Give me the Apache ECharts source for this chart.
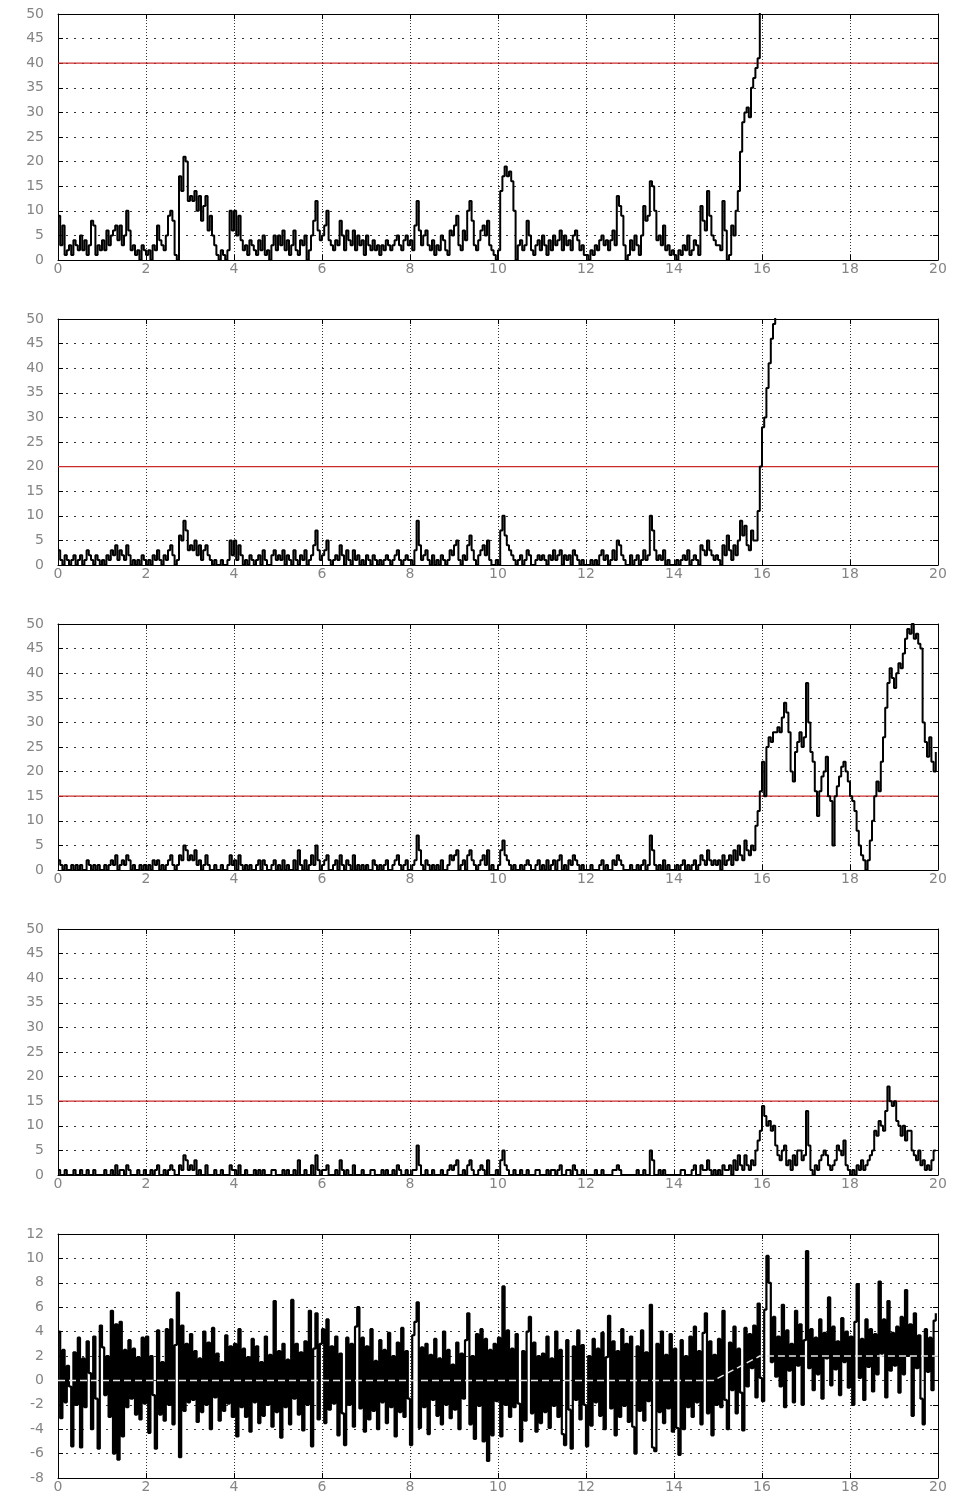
<!DOCTYPE html>
<html>
<head>
<meta charset="utf-8">
<script src="https://cdn.jsdelivr.net/npm/echarts@6/dist/echarts.min.js"></script>
<style>html,body{margin:0;padding:0;background:#fff}#c{width:957px;height:1494px}</style>
</head>
<body>
<div id="c"></div>
<script>
// sample spacing of the recorded series (x axis, time units)
const dt = 0.05;
const xRange = [0, 20];
const xTickLabels = [0,2,4,6,8,10,12,14,16,18,20];

// Panel 1 statistic (goes off the top just before 16)
const stat1 = [
 9,3,7,1,2,3,1,4,3,2,5,2,4,1,3,8,7,1,3,2,
 4,2,6,3,5,6,7,4,7,3,5,10,6,2,3,1,2,0,3,2,
 1,2,0,3,2,7,4,3,2,5,9,10,8,1,0,17,14,21,20,12,
 13,12,14,10,13,8,11,13,6,9,5,3,1,0,2,1,0,2,10,6,
 10,5,9,4,2,3,1,4,3,2,1,4,2,5,1,2,0,3,5,2,
 5,3,6,2,4,1,3,6,2,1,4,3,5,0,2,5,8,12,6,4,
 5,7,10,4,3,2,4,3,8,5,2,6,4,3,6,2,5,3,4,1,
 5,3,2,4,2,3,1,3,2,4,3,2,3,4,5,3,2,4,5,3,
 4,2,7,12,6,3,5,6,3,2,4,1,3,2,5,4,2,1,6,5,
 7,9,3,2,6,4,10,12,8,3,2,4,6,7,5,8,3,2,1,0,
 2,14,17,19,17,18,16,10,0,3,4,2,3,8,5,2,1,3,4,2,
 5,3,1,4,2,5,3,4,6,2,5,3,4,2,5,6,4,2,3,1,
 1,0,2,1,3,2,4,5,3,4,2,4,6,3,13,11,9,3,0,1,
 4,2,5,3,1,5,11,8,9,16,15,10,4,5,3,7,2,3,1,2,
 1,0,2,1,3,2,5,1,2,4,3,1,11,8,6,14,9,5,4,3,
 3,2,12,6,0,1,7,5,10,14,22,28,30,31,29,35,37,39,41,56,
 60,64
];

// Panel 2 statistic
const stat2 = [
 3,1,0,2,1,0,1,2,0,1,2,0,1,3,2,1,0,2,1,0,
 1,0,2,1,3,2,4,1,3,2,1,4,2,0,1,0,1,0,2,1,
 0,1,0,2,1,3,1,0,2,1,3,4,2,0,1,6,5,9,7,3,
 4,3,5,2,4,1,3,4,2,1,0,1,0,0,1,0,0,1,5,2,
 5,1,4,2,0,1,0,2,1,0,1,2,0,3,1,0,0,2,3,1,
 2,1,3,0,2,1,0,3,1,0,2,1,3,0,1,2,4,7,3,1,
 2,3,5,1,0,1,2,1,4,2,0,3,1,0,3,1,2,0,1,0,
 2,1,0,2,1,0,1,0,1,2,1,0,1,2,3,1,0,1,2,1,
 1,0,3,9,4,1,2,3,1,0,2,0,1,0,2,1,0,1,3,2,
 4,5,1,0,2,1,4,6,3,1,0,2,3,4,2,5,1,0,0,1,
 0,7,10,6,4,3,2,1,0,1,2,0,1,3,2,0,0,1,2,1,
 2,1,0,2,1,3,1,2,3,0,2,1,2,0,3,2,1,0,1,0,
 0,0,1,0,1,0,2,3,1,2,0,1,3,1,5,4,2,1,0,0,
 2,0,1,2,0,1,3,1,2,10,7,3,1,2,1,3,0,1,0,0,
 0,1,0,1,2,1,3,0,1,2,1,0,4,3,2,5,3,2,1,2,
 1,0,4,2,6,3,1,4,2,5,9,6,8,4,3,7,5,5,11,20,
 28,30,36,41,46,49,52,55
];

// Panel 3 statistic
const stat3 = [
 2,1,0,1,0,0,1,0,1,0,1,0,0,2,1,0,1,0,1,0,
 0,1,0,1,2,1,3,0,1,2,1,3,2,0,1,0,0,1,0,1,
 0,1,0,2,1,2,0,1,0,1,2,3,1,0,1,3,2,5,4,2,
 3,2,4,1,2,0,1,3,1,0,0,1,0,0,1,0,0,1,3,1,
 2,0,3,1,0,1,0,1,0,0,1,2,0,2,1,0,0,1,2,0,
 1,0,2,0,1,0,0,2,0,4,1,0,2,0,1,3,1,5,2,0,
 1,2,3,0,0,1,2,0,3,1,0,2,1,0,3,0,1,0,1,0,
 1,0,0,2,1,0,1,0,1,2,0,0,1,2,3,1,0,1,2,0,
 0,1,2,7,4,1,0,2,1,0,1,0,1,0,2,0,0,1,3,2,
 3,4,0,1,2,0,3,4,2,1,0,1,2,3,1,4,0,1,0,0,
 1,4,6,3,2,1,0,1,0,0,1,0,1,2,1,0,0,1,2,0,
 1,0,2,0,1,2,0,2,3,0,1,0,2,1,3,2,1,0,1,0,
 0,0,1,0,0,0,1,2,0,1,0,0,2,1,3,2,1,0,0,0,
 1,0,0,1,0,1,2,0,1,7,4,1,0,1,0,2,0,1,0,0,
 0,1,0,1,2,0,1,0,1,2,0,1,3,2,1,4,2,1,2,1,
 2,0,3,1,2,3,1,4,2,5,3,2,6,4,3,5,4,9,12,16,
 22,15,25,27,26,28,28,29,28,31,34,32,28,20,18,24,26,28,25,27,
 38,30,24,22,16,11,16,19,20,23,15,14,5,15,17,19,21,22,20,18,
 15,14,12,8,5,3,2,0,2,6,10,15,18,16,22,27,33,38,41,39,
 37,40,42,41,44,47,49,48,50,47,48,46,45,30,26,23,27,22,20,24
];

// Panel 4 statistic
const stat4 = [
 1,0,0,1,0,0,0,1,0,0,1,0,0,1,0,0,1,0,0,0,
 0,1,0,0,1,0,2,0,1,1,0,2,1,0,0,0,1,0,0,1,
 0,0,1,0,1,2,0,0,1,0,1,2,1,0,0,2,1,4,3,1,
 2,1,3,0,1,0,0,2,0,0,0,1,0,0,1,0,0,0,2,1,
 1,0,2,0,0,1,0,0,0,1,0,1,0,1,0,0,0,1,1,0,
 0,0,1,0,1,0,0,1,0,3,0,0,1,0,0,2,0,4,1,0,
 1,1,2,0,0,0,1,0,3,1,0,1,0,0,2,0,0,0,1,0,
 0,0,1,1,0,0,0,1,0,1,0,0,1,0,2,1,0,0,1,0,
 0,1,1,6,2,0,0,1,0,0,1,0,0,0,1,0,0,1,2,1,
 2,3,0,0,1,0,2,3,1,0,0,1,2,1,0,3,0,0,0,1,
 0,3,5,2,1,0,0,1,0,0,1,0,0,1,0,0,0,1,1,0,
 0,0,1,0,1,1,0,1,2,0,0,1,1,0,2,1,0,0,1,0,
 0,0,0,0,1,0,0,1,0,0,0,0,1,1,2,1,0,0,0,0,
 0,0,0,1,0,0,1,0,0,5,3,0,0,1,0,1,0,0,0,0,
 0,0,0,1,1,0,0,0,1,2,0,0,2,1,1,3,1,0,1,0,
 1,0,2,1,1,2,0,3,1,4,2,1,4,2,1,3,2,5,7,9,
 14,12,10,11,9,10,6,4,3,5,6,2,3,1,4,2,5,5,3,4,
 13,6,1,0,2,1,3,4,5,4,2,1,2,3,6,5,4,7,2,1,
 0,1,0,2,1,3,1,2,3,4,5,9,8,11,10,9,13,18,15,14,
 15,11,10,8,10,7,9,9,5,4,3,5,2,3,1,2,1,3,5,5
];

// Panel 5 raw signal
const signal = [
 4.0,-3.1,2.5,-1.8,1.2,-0.5,-5.4,2.3,-2.0,3.5,-5.5,1.8,-2.2,3.2,0.6,-4.0,3.6,-1.5,-5.6,4.5,
 2.7,-1.2,2.0,-3.0,5.7,-6.0,4.6,-6.5,4.8,-4.6,2.5,-2.2,3.3,-1.5,2.6,-2.8,1.9,-3.2,3.5,-1.9,
 3.6,-4.3,2.0,-1.2,-5.6,4.1,-2.8,1.5,-3.3,4.2,-2.0,5.0,-3.6,2.9,7.2,-6.3,4.5,-2.5,3.0,-1.8,
 3.8,-1.6,2.4,-3.4,1.8,-2.6,4.0,-2.0,3.1,-4.0,4.3,-1.4,2.2,-3.3,1.5,-2.5,3.7,-1.9,2.8,-3.0,
 3.0,-4.6,4.2,-2.2,2.6,-3.0,1.9,-4.2,3.4,-1.8,2.8,-3.5,1.5,-2.9,3.6,-2.0,2.1,-3.8,6.5,-2.6,
 2.4,-4.7,3.0,-2.2,1.7,-3.6,6.6,-1.5,3.0,-2.8,2.3,-4.1,3.2,-2.0,5.7,-5.4,2.6,5.5,-3.2,3.0,
 4.2,-3.5,5.0,-2.4,2.8,-1.9,3.6,-4.5,2.2,-2.7,-5.3,3.5,-2.0,3.0,-3.8,4.4,6.0,-2.3,3.5,-4.2,
 2.8,-3.2,4.2,-2.5,1.6,-4.0,3.3,-1.8,2.5,-3.5,3.9,-2.2,2.0,-4.6,3.1,-2.6,4.3,-3.0,2.4,-1.5,
 -5.3,3.7,4.8,6.4,-3.9,2.7,-2.2,3.0,-4.4,2.1,-1.6,3.4,-2.9,1.8,-3.6,4.0,-2.0,2.5,-3.1,1.3,
 -2.4,3.1,-4.0,2.2,-1.5,3.3,5.5,-3.6,2.0,-4.8,3.8,-2.1,4.2,-5.0,3.4,-6.6,2.5,-4.5,3.0,-1.7,
 3.5,-4.6,7.7,-2.0,4.1,-3.0,2.6,-2.2,3.8,-1.9,-5.0,2.4,-3.3,4.0,5.2,-2.7,3.1,-4.2,2.0,-3.5,
 2.2,-2.6,3.6,-3.9,1.8,-2.1,4.0,-3.0,2.5,-4.4,-5.3,3.3,-2.4,-5.6,2.8,-1.6,4.1,-3.2,2.9,-2.0,
 -5.4,2.0,-3.7,3.4,-1.8,2.6,-2.9,3.9,-4.0,1.9,5.3,-2.3,3.2,-4.5,2.4,-3.0,4.2,-2.1,3.0,-3.4,
 3.6,-3.8,-6.0,2.8,-2.5,4.1,-3.3,2.3,-1.7,6.2,-5.5,-5.8,3.0,-2.6,4.0,-3.5,2.1,-2.3,3.8,-4.2,
 2.6,-3.9,-6.1,3.3,-4.0,2.0,-2.2,3.6,-3.0,4.4,-1.8,2.4,-3.6,3.9,5.5,-2.7,3.2,-4.5,2.1,-2.0,
 3.4,-2.2,5.7,-1.6,-4.0,3.1,-0.8,4.4,-2.7,2.6,-1.0,-4.1,4.3,-0.5,3.8,1.0,4.5,-1.4,6.3,0.2,
 -1.7,5.8,10.2,8.0,1.5,5.2,0.3,3.6,-0.5,6.2,-2.2,4.1,0.8,3.0,-1.8,5.7,1.2,4.6,-2.0,3.3,
 10.6,1.0,4.2,-0.8,3.5,0.5,5.0,-1.5,3.9,1.8,6.8,-0.4,4.4,0.9,3.2,-1.2,5.1,1.5,4.0,-0.6,
 3.6,-2.0,4.8,7.9,0.2,3.4,-1.6,5.0,1.1,4.2,-0.9,3.8,0.5,8.1,2.2,5.0,-1.4,6.5,0.8,3.9,
 1.2,4.4,-1.0,5.2,0.5,7.4,2.0,4.6,-2.9,5.5,1.0,3.7,-1.5,-3.6,4.2,0.7,3.5,-0.8,4.9,5.5
];

// Mean of the signal (white line in panel 5)
const meanX = [0, 14.9, 15.95, 20];
const meanY = [0, 0, 2, 2];

// Alarm thresholds (red lines) for panels 1-4
const thresholds = [40, 20, 15, 15];

// y ranges [min, max, interval] for each panel
const yRanges = [[0,50,5],[0,50,5],[0,50,5],[0,50,5],[-8,12,2]];

const panelData = [stat1, stat2, stat3, stat4, signal];

function pairs(arr){ return arr.map((v,i)=>[+(i*dt).toFixed(2), v]); }

const chart = echarts.init(document.getElementById('c'), null, {renderer:'canvas'});
const grids = [], xAxes = [], yAxes = [], series = [];
const labelStyle = {color:'#858585', fontFamily:'DejaVu Sans', fontSize:14};
const tickStyle = {show:true, inside:true, length:5, lineStyle:{color:'#000', width:1}};
const axisLineStyle = {show:true, onZero:false, lineStyle:{color:'#000', width:1}};

for (let p=0; p<5; p++){
  grids.push({left:58, right:19, top:14+305*p, height:246, containLabel:false});
  const [ymin,ymax,yint] = yRanges[p];
  xAxes.push({type:'value', gridIndex:p, position:'bottom', min:xRange[0], max:xRange[1], interval:2,
    axisLine:axisLineStyle, axisTick:tickStyle,
    axisLabel:Object.assign({margin:2, formatter:(v)=> xTickLabels.includes(v)? String(v):''}, labelStyle),
    splitLine:{show:true, lineStyle:{color:'#333', width:1, type:[1,2]}}});
  xAxes.push({type:'value', gridIndex:p, position:'top', min:xRange[0], max:xRange[1], interval:2,
    axisLine:axisLineStyle, axisTick:tickStyle, axisLabel:{show:false}, splitLine:{show:false}});
  yAxes.push({type:'value', gridIndex:p, position:'left', min:ymin, max:ymax, interval:yint,
    axisLine:axisLineStyle, axisTick:tickStyle,
    axisLabel:Object.assign({margin:14}, labelStyle),
    splitLine:{show:true, lineStyle:{color:'#333', width:1, type:[2,6]}}});
  yAxes.push({type:'value', gridIndex:p, position:'right', min:ymin, max:ymax, interval:yint,
    axisLine:axisLineStyle, axisTick:tickStyle, axisLabel:{show:false}, splitLine:{show:false}});

  if (p<4){
    series.push({type:'line', xAxisIndex:2*p, yAxisIndex:2*p,
      data:[[xRange[0], thresholds[p]],[xRange[1], thresholds[p]]],
      showSymbol:false, symbol:'none', silent:true,
      lineStyle:{color:'#cc2b2b', width:1.2}, z:2});
  }
  series.push({type:'line', xAxisIndex:2*p, yAxisIndex:2*p, data:pairs(panelData[p]),
    step:'end', showSymbol:false, symbol:'none', clip:true, silent:true,
    lineStyle:{color:'#000', width: p<4 ? 2 : 2.2}, z:3});
}
series.push({type:'line', xAxisIndex:8, yAxisIndex:8,
  data:meanX.map((x,i)=>[x, meanY[i]]), showSymbol:false, symbol:'none', silent:true,
  lineStyle:{color:'#e6e6e6', width:1.5, type:[7,4]}, z:5});

chart.setOption({animation:false, backgroundColor:'#fff', grid:grids, xAxis:xAxes, yAxis:yAxes, series:series});
</script>
</body>
</html>
